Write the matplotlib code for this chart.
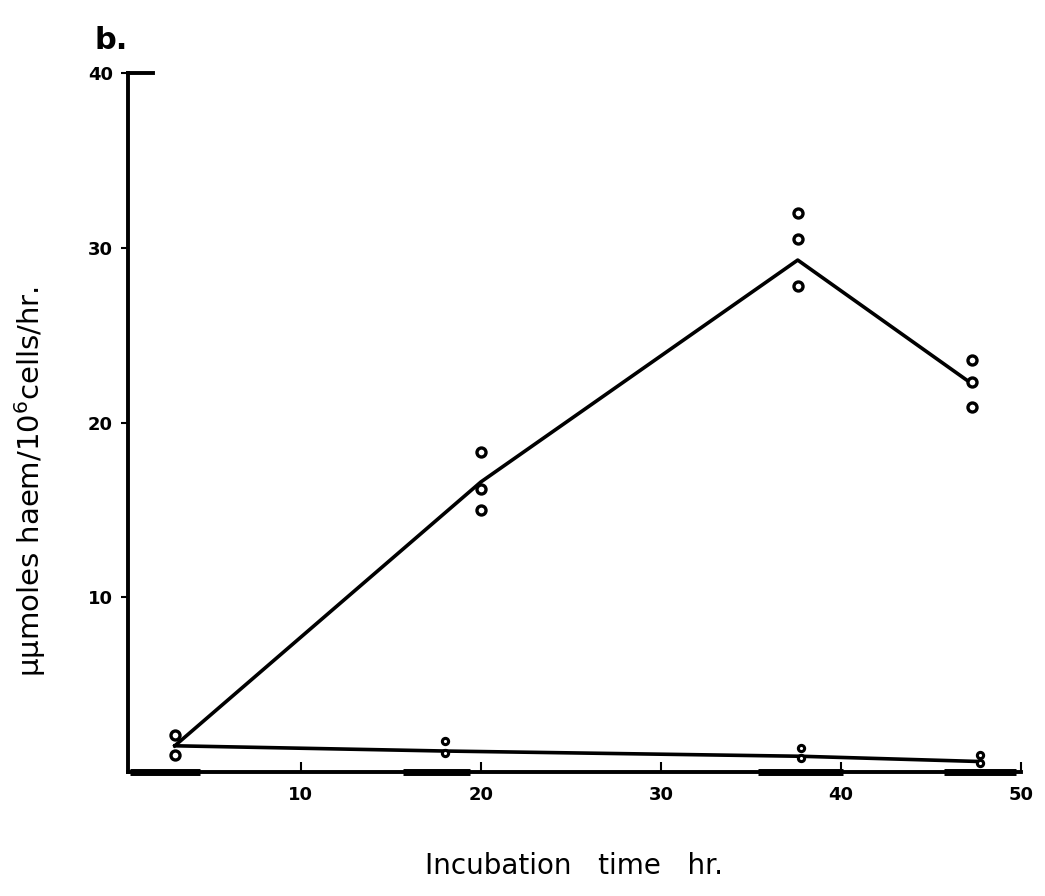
import numpy as np
import matplotlib.pyplot as plt

# line through the means (upper curve)
upper_x = [3, 20, 37.6, 47.3]
upper_y = [1.5, 16.6, 29.3, 22.2]

# individual readings, upper curve
upper_pts_x = [3, 3, 20, 20, 20, 37.6, 37.6, 37.6, 47.3, 47.3, 47.3]
upper_pts_y = [2.1, 1.0, 18.3, 16.2, 15.0, 32.0, 30.5, 27.8, 23.6, 22.3, 20.9]

# lower curve
lower_x = [3, 18, 37.8, 47.7]
lower_y = [1.5, 1.2, 0.9, 0.6]
lower_pts_x = [18, 18, 37.8, 37.8, 47.7, 47.7]
lower_pts_y = [1.8, 1.1, 1.4, 0.8, 1.0, 0.5]

# thick bars drawn on the time axis
bar_starts = [0.5, 15.7, 35.4, 45.7]
bar_ends = [4.4, 19.4, 40.1, 49.7]

x_ticks = [10, 20, 30, 40, 50]
y_ticks = [10, 20, 30, 40]

fig = plt.figure(figsize=(10.45, 8.96), dpi=100)
ax = fig.add_axes([0.1225, 0.1384, 0.8545, 0.780])

ax.plot(upper_x, upper_y, color='black', lw=2.6)
ax.plot(lower_x, lower_y, color='black', lw=2.6)
ax.plot(upper_pts_x, upper_pts_y, 'o', ms=6.5, mfc='white', mec='black', mew=2.4, ls='none')
ax.plot(lower_pts_x, lower_pts_y, 'o', ms=4.5, mfc='white', mec='black', mew=2.2, ls='none')

for s, e in zip(bar_starts, bar_ends):
    ax.plot([s, e], [0, 0], color='black', lw=5, solid_capstyle='butt', clip_on=False)

ax.set_xlim(0.4, 50)
ax.set_ylim(0, 40)
ax.spines['top'].set_visible(False)
ax.spines['right'].set_visible(False)
ax.spines['left'].set_linewidth(2.8)
ax.spines['bottom'].set_linewidth(2.8)

ax.set_xticks(x_ticks)
ax.set_yticks(y_ticks)
ax.tick_params(axis='x', direction='in', length=7, width=1.5, labelsize=13, pad=10)
ax.tick_params(axis='y', direction='out', length=5, width=1.5, labelsize=13, pad=6)
for lab in ax.get_xticklabels() + ax.get_yticklabels():
    lab.set_fontweight('bold')
# top tick at 40 points inwards
ax.plot([0.4, 1.8], [40, 40], color='black', lw=2.8, clip_on=False)

ax.set_xlabel('Incubation   time   hr.', fontsize=20)
ax.xaxis.set_label_coords(0.5, -0.115)
ax.set_ylabel('\u03bc\u03bcmoles haem/10$^6$cells/hr.', fontsize=21)
ax.yaxis.set_label_coords(-0.09, 0.415)
fig.text(0.09, 0.955, 'b.', fontsize=22, fontweight='bold', va='center')

fig.savefig('out.png', dpi=100)
